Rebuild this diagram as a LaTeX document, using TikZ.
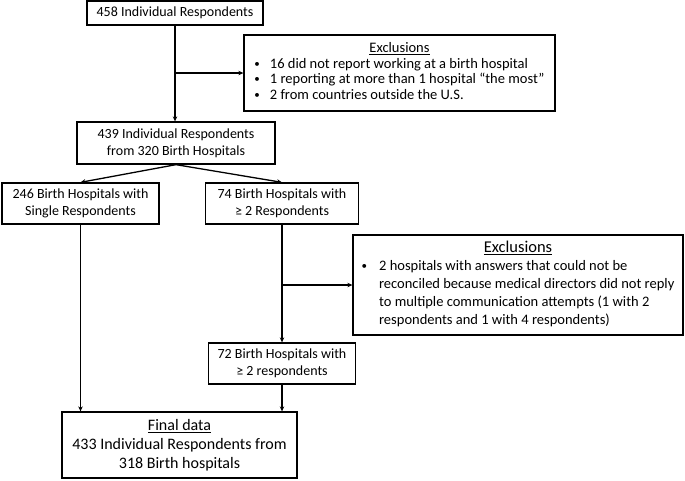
\documentclass[tikz,border=0pt]{standalone}
\usepackage{fontspec}
\setmainfont{Carlito}
\usetikzlibrary{arrows.meta}
\newcommand\smbul{\raisebox{0.15ex}{\fontsize{11}{11}\selectfont•}}
\begin{document}
\begin{tikzpicture}[x=1pt,y=-1pt,
  box/.style={draw, line width=1.3pt, inner sep=0pt, align=center, font=\fontsize{14}{17}\selectfont},
  exbox/.style={draw, line width=1.3pt, inner sep=0pt},
  conn/.style={line width=1.3pt, -{Stealth[length=5pt,width=4.5pt]}},
]
\fill[white] (0,0) rectangle (685,480);
\useasboundingbox (0,0) rectangle (685,480);
\node[box, minimum width=176pt, minimum height=24pt] (b1) at (175,13) {458 Individual Respondents};
\node[exbox, minimum width=311pt, minimum height=76pt, font=\fontsize{14.5}{15.5}\selectfont] (ex1) at (399.5,73)
 {\begin{tabular}{@{}l@{\hspace{10pt}}l@{}}
  \multicolumn{2}{c}{\underline{Exclusions}}\\
  \smbul&16 did not report working at a birth hospital\\
  \smbul&1 reporting at more than 1 hospital “the most”\\
  \smbul&2 from countries outside the U.S.
  \end{tabular}};
\node[box, minimum width=198pt, minimum height=42pt] (b2) at (176,143) {439 Individual Respondents\\from 320 Birth Hospitals};
\node[box, minimum width=157pt, minimum height=41pt] (b3) at (80.5,203.5) {246 Birth Hospitals with\\Single Respondents};
\node[box, minimum width=153pt, minimum height=41pt] (b4) at (282,203.5) {74 Birth Hospitals with\\≥ 2 Respondents};
\node[exbox, minimum width=330pt, minimum height=100pt, font=\fontsize{14.5}{18}\selectfont] (ex2) at (518,285)
 {\begin{tabular}{@{}l@{\hspace{12pt}}l@{}}
  \multicolumn{2}{c}{\fontsize{16.5}{18}\selectfont\underline{Exclusions}}\\
  \smbul&2 hospitals with answers that could not be\\
  &reconciled because medical directors did not reply\\
  &to multiple communication attempts (1 with 2\\
  &respondents and 1 with 4 respondents)
  \end{tabular}};
\node[box, minimum width=147pt, minimum height=41pt] (b5) at (282,363.5) {72 Birth Hospitals with\\≥ 2 respondents};
\node[box, minimum width=235pt, minimum height=66pt, font=\fontsize{16}{19}\selectfont] (b6) at (179.5,445) {\underline{Final data}\\433 Individual Respondents from\\318 Birth hospitals};
\draw[conn] (b1.south) -- (b1.south |- b2.north);
\draw[conn] (b1.south |- ex1.west) -- (ex1.west);
\draw[conn] (b2.south) -- (b3.north);
\draw[conn] (b2.south) -- (b4.north);
\draw[conn] (b4.south) -- (b5.north);
\draw[conn] (b4.south |- ex2.west) -- (ex2.west);
\draw[conn] (b3.south) -- (b3.south |- b6.north);
\draw[conn] (b5.south) -- (b5.south |- b6.north);
\end{tikzpicture}
\end{document}
